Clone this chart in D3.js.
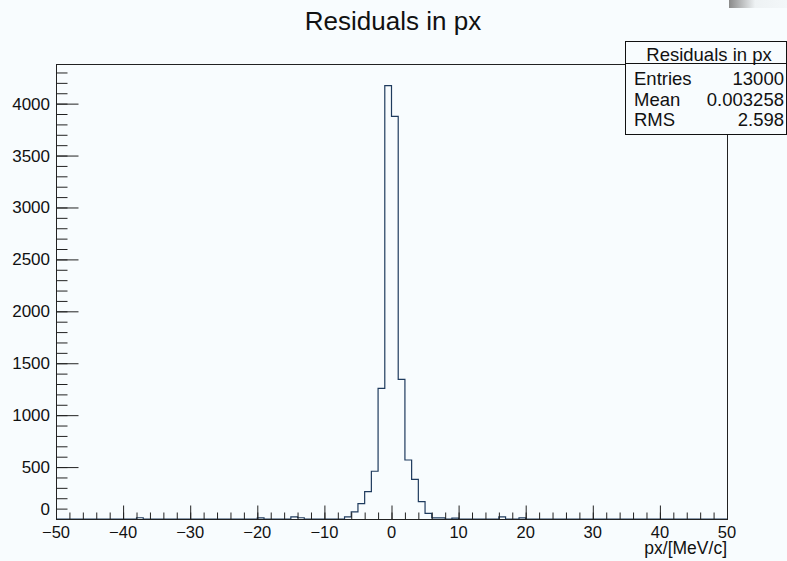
<!DOCTYPE html>
<html>
<head>
<meta charset="utf-8">
<script src="https://cdn.jsdelivr.net/npm/d3@7"></script>
<style>
  html, body { margin: 0; padding: 0; background: #f8fcfe; }
  svg { display: block; }
  text { font-family: "Liberation Sans", Arial, Helvetica, sans-serif; fill: #111; }
</style>
</head>
<body>
<svg id="chart" width="787" height="561"></svg>
<script>
// Histogram of px residuals: 100 bins of width 1 MeV/c over [-50, 50]
const xRange = [-50, 50];
const binWidth = 1;
// lower edges of the non-empty bins and their counts
const binLow = [-38, -20, -15, -14, -7, -6, -5, -4, -3, -2, -1, 0, 1, 2, 3, 4, 5, 6, 7, 9, 16, 19];
const counts = [12, 10, 20, 12, 20, 68, 148, 263, 460, 1257, 4173, 3878, 1344, 568, 382, 167, 55, 10, 10, 8, 20, 10];

const xTicks = [-50, -40, -30, -20, -10, 0, 10, 20, 30, 40, 50];
const yTicks = [0, 500, 1000, 1500, 2000, 2500, 3000, 3500, 4000];

const statsTitle = "Residuals in px";
const statsNames = ["Entries", "Mean", "RMS"];
const statsValues = ["13000", "0.003258", "2.598"];

const title = "Residuals in px";
const xTitle = "px/[MeV/c]";

const m = { left: 56, right: 727, top: 64, bottom: 519 };
const lineColor = "#1f3b5e";
const bg = "#f8fcfe";

const svg = d3.select("#chart");

// full 100-bin array built from the listed bins
const nBins = (xRange[1] - xRange[0]) / binWidth;
const bins = d3.range(nBins).map(i => ({ x0: xRange[0] + i * binWidth, n: 0 }));
binLow.forEach((b, i) => { bins[(b - xRange[0]) / binWidth].n = counts[i]; });

const x = d3.scaleLinear().domain(xRange).range([m.left, m.right]);
const y = d3.scaleLinear().domain([0, d3.max(counts) * 1.05]).range([m.bottom, m.top]);

// faint grey strip at the top right corner
const grad = svg.append("defs").append("linearGradient").attr("id", "corner")
  .attr("x1", 0).attr("x2", 1).attr("y1", 0).attr("y2", 0);
grad.append("stop").attr("offset", 0).attr("stop-color", "#8a8a8a");
grad.append("stop").attr("offset", 0.45).attr("stop-color", "#eef2f4");
grad.append("stop").attr("offset", 1).attr("stop-color", "#f3f7f9");
svg.append("rect").attr("x", 729).attr("y", 0).attr("width", 58).attr("height", 8)
  .attr("fill", "url(#corner)");

// histogram outline (step line)
const pts = [[x(xRange[0]), y(0)]];
bins.forEach(b => {
  pts.push([x(b.x0), y(b.n)]);
  pts.push([x(b.x0 + binWidth), y(b.n)]);
});
pts.push([x(xRange[1]), y(0)]);
svg.append("path")
  .attr("d", d3.line()(pts))
  .attr("fill", "none")
  .attr("stroke", lineColor)
  .attr("stroke-width", 1.2);

// frame
svg.append("rect")
  .attr("x", m.left + 0.5).attr("y", m.top + 0.5)
  .attr("width", m.right - m.left).attr("height", m.bottom - m.top)
  .attr("fill", "none").attr("stroke", "#222").attr("stroke-width", 1);

// y axis ticks (drawn inside the frame)
const yMinor = d3.range(0, y.domain()[1], 100);
const yAxis = d3.axisRight(y).tickValues(yMinor).tickSize(11).tickFormat("");
svg.append("g").attr("transform", `translate(${m.left + 0.5},0)`).call(yAxis)
  .call(g => g.select(".domain").remove())
  .call(g => g.selectAll("line").attr("stroke", "#222"));
const yMajor = d3.axisRight(y).tickValues(yTicks).tickSize(22).tickFormat("");
svg.append("g").attr("transform", `translate(${m.left + 0.5},0)`).call(yMajor)
  .call(g => g.select(".domain").remove())
  .call(g => g.selectAll("line").attr("stroke", "#222"));
svg.append("g").selectAll("text").data(yTicks).join("text")
  .attr("x", 50).attr("y", d => d === 0 ? y(d) - 4 : y(d) + 6)
  .attr("text-anchor", "end")
  .style("font-size", "17px")
  .text(d => d);

// x axis ticks
const xMinor = d3.range(xRange[0], xRange[1] + 0.001, 2);
const xAxisMinor = d3.axisTop(x).tickValues(xMinor).tickSize(7).tickFormat("");
svg.append("g").attr("transform", `translate(0,${m.bottom + 0.5})`).call(xAxisMinor)
  .call(g => g.select(".domain").remove())
  .call(g => g.selectAll("line").attr("stroke", "#222"));
const xAxisMajor = d3.axisTop(x).tickValues(xTicks).tickSize(14).tickFormat("");
svg.append("g").attr("transform", `translate(0,${m.bottom + 0.5})`).call(xAxisMajor)
  .call(g => g.select(".domain").remove())
  .call(g => g.selectAll("line").attr("stroke", "#222"));
svg.append("g").selectAll("text").data(xTicks).join("text")
  .attr("x", d => x(d)).attr("y", 538)
  .attr("text-anchor", "middle")
  .style("font-size", "16.5px")
  .text(d => d < 0 ? "\u2212" + Math.abs(d) : d);

// axis title
svg.append("text").attr("x", m.right).attr("y", 554)
  .attr("text-anchor", "end").style("font-size", "17.5px").text(xTitle);

// title
svg.append("text").attr("x", 393).attr("y", 30)
  .attr("text-anchor", "middle").style("font-size", "26px").text(title);

// statistics box
const sb = { x: 625.5, y: 41.5, w: 161, h: 93, head: 22 };
const stats = svg.append("g");
stats.append("rect").attr("x", sb.x).attr("y", sb.y).attr("width", sb.w).attr("height", sb.h)
  .attr("fill", bg).attr("stroke", "#111").attr("stroke-width", 1);
stats.append("line").attr("x1", sb.x).attr("x2", sb.x + sb.w)
  .attr("y1", sb.y + sb.head).attr("y2", sb.y + sb.head)
  .attr("stroke", "#111");
stats.append("text").attr("x", 709).attr("y", 61)
  .attr("text-anchor", "middle").style("font-size", "18.5px").text(statsTitle);
const rowY = [85, 106, 126];
stats.selectAll("text.name").data(statsNames).join("text").attr("class", "name")
  .attr("x", 634).attr("y", (d, i) => rowY[i])
  .style("font-size", "18.5px").text(d => d);
stats.selectAll("text.val").data(statsValues).join("text").attr("class", "val")
  .attr("x", 784).attr("y", (d, i) => rowY[i]).attr("text-anchor", "end")
  .style("font-size", "18.5px").text(d => d);
</script>
</body>
</html>
